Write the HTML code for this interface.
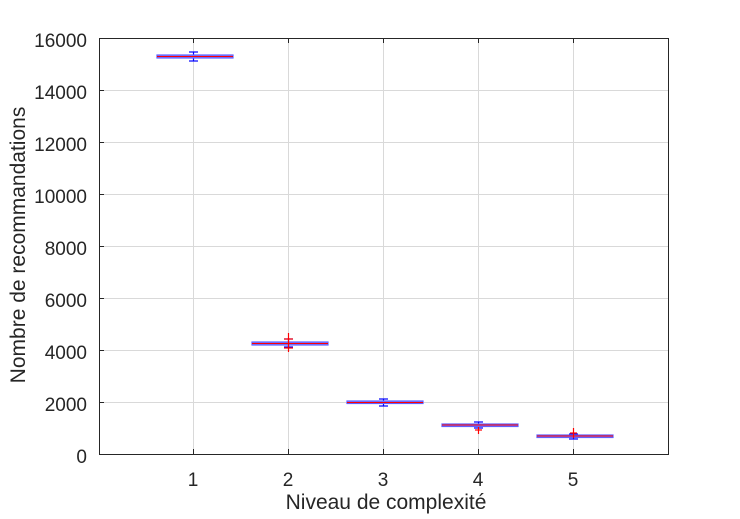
<!DOCTYPE html>
<html><head><style>body{margin:0;background:#fff}svg{display:block}</style></head><body>
<svg width="740" height="519" xmlns="http://www.w3.org/2000/svg" font-family="Liberation Sans, sans-serif">
<rect width="740" height="519" fill="#fff"/>
<g stroke="#d9d9d9" stroke-width="1">
<line x1="193.5" y1="38" x2="193.5" y2="454"/><line x1="288.5" y1="38" x2="288.5" y2="454"/><line x1="383.5" y1="38" x2="383.5" y2="454"/><line x1="478.5" y1="38" x2="478.5" y2="454"/><line x1="573.5" y1="38" x2="573.5" y2="454"/>
<line x1="99" y1="402.5" x2="669" y2="402.5"/><line x1="99" y1="350.5" x2="669" y2="350.5"/><line x1="99" y1="298.5" x2="669" y2="298.5"/><line x1="99" y1="246.5" x2="669" y2="246.5"/><line x1="99" y1="194.5" x2="669" y2="194.5"/><line x1="99" y1="142.5" x2="669" y2="142.5"/><line x1="99" y1="90.5" x2="669" y2="90.5"/>
</g>
<rect x="99.5" y="38.5" width="569" height="416" fill="none" stroke="#262626" stroke-width="1"/>
<g stroke="#262626">
<line x1="193.5" y1="454" x2="193.5" y2="449"/><line x1="288.5" y1="454" x2="288.5" y2="449"/><line x1="383.5" y1="454" x2="383.5" y2="449"/><line x1="478.5" y1="454" x2="478.5" y2="449"/><line x1="573.5" y1="454" x2="573.5" y2="449"/>
<line x1="193.5" y1="38" x2="193.5" y2="43"/><line x1="288.5" y1="38" x2="288.5" y2="43"/><line x1="383.5" y1="38" x2="383.5" y2="43"/><line x1="478.5" y1="38" x2="478.5" y2="43"/><line x1="573.5" y1="38" x2="573.5" y2="43"/>
<line x1="99" y1="402.5" x2="104" y2="402.5"/><line x1="99" y1="350.5" x2="104" y2="350.5"/><line x1="99" y1="298.5" x2="104" y2="298.5"/><line x1="99" y1="246.5" x2="104" y2="246.5"/><line x1="99" y1="194.5" x2="104" y2="194.5"/><line x1="99" y1="142.5" x2="104" y2="142.5"/><line x1="99" y1="90.5" x2="104" y2="90.5"/>
</g>
<g font-size="19" fill="#262626" text-anchor="end">
<text x="87" y="463">0</text><text x="87" y="411">2000</text><text x="87" y="359">4000</text><text x="87" y="307">6000</text><text x="87" y="255">8000</text><text x="87" y="203">10000</text><text x="87" y="151">12000</text><text x="87" y="99">14000</text><text x="87" y="47">16000</text>
</g>
<g fill="#262626" text-anchor="middle">
<g font-size="19"><text x="193" y="486">1</text><text x="288" y="486">2</text><text x="383" y="486">3</text><text x="478" y="486">4</text><text x="573" y="486">5</text></g>
<text x="386" y="509" font-size="21">Niveau de complexité</text>
<text transform="translate(25,245) rotate(-90)" font-size="21">Nombre de recommandations</text>
</g>
<g stroke-width="1.2">
<g stroke="#0000ff"><line x1="193.5" y1="52" x2="193.5" y2="61"/><line x1="189" y1="52" x2="198" y2="52"/><line x1="189" y1="61" x2="198" y2="61"/></g>
<rect x="157" y="55" width="76" height="3" fill="#8080ff" stroke="#6060ff"/><line x1="157" y1="56.5" x2="233" y2="56.5" stroke="#ff0000" stroke-width="1"/>
<g stroke="#0000ff"><line x1="288.5" y1="338" x2="288.5" y2="347"/><line x1="284" y1="339" x2="293" y2="339"/><line x1="284" y1="347" x2="293" y2="347"/></g>
<rect x="252" y="342" width="76" height="3" fill="#8080ff" stroke="#6060ff"/><line x1="252" y1="343.5" x2="328" y2="343.5" stroke="#ff0000" stroke-width="1"/>
<g stroke="#ff0000"><line x1="288.5" y1="333" x2="288.5" y2="352"/><line x1="284" y1="339" x2="293" y2="339"/><line x1="284" y1="348" x2="293" y2="348"/></g>
<g stroke="#0000ff"><line x1="383.5" y1="399" x2="383.5" y2="406"/><line x1="379" y1="399" x2="388" y2="399"/><line x1="379" y1="406" x2="388" y2="406"/></g>
<rect x="347" y="401" width="76" height="2.5" fill="#8080ff" stroke="#6060ff"/><line x1="347" y1="402.5" x2="423" y2="402.5" stroke="#ff0000" stroke-width="1"/>
<g stroke="#0000ff"><line x1="478.5" y1="422" x2="478.5" y2="428"/><line x1="474" y1="422" x2="483" y2="422"/><line x1="474" y1="428" x2="483" y2="428"/></g>
<rect x="442" y="424" width="76" height="2.5" fill="#8080ff" stroke="#6060ff"/><line x1="442" y1="425" x2="518" y2="425" stroke="#ff0000" stroke-width="1"/>
<g stroke="#ff0000"><line x1="478.5" y1="427" x2="478.5" y2="434"/><line x1="475" y1="430" x2="482" y2="430"/></g>
<g stroke="#0000ff"><line x1="573.5" y1="433" x2="573.5" y2="439"/><line x1="569" y1="434" x2="578" y2="434"/><line x1="569" y1="439" x2="578" y2="439"/></g>
<rect x="537" y="435" width="76" height="2.5" fill="#8080ff" stroke="#6060ff"/><line x1="537" y1="436" x2="613" y2="436" stroke="#ff0000" stroke-width="1"/>
<g stroke="#ff0000"><line x1="573.5" y1="428" x2="573.5" y2="438"/><line x1="570" y1="433" x2="577" y2="433"/></g>
</g>
</svg>
</body></html>
